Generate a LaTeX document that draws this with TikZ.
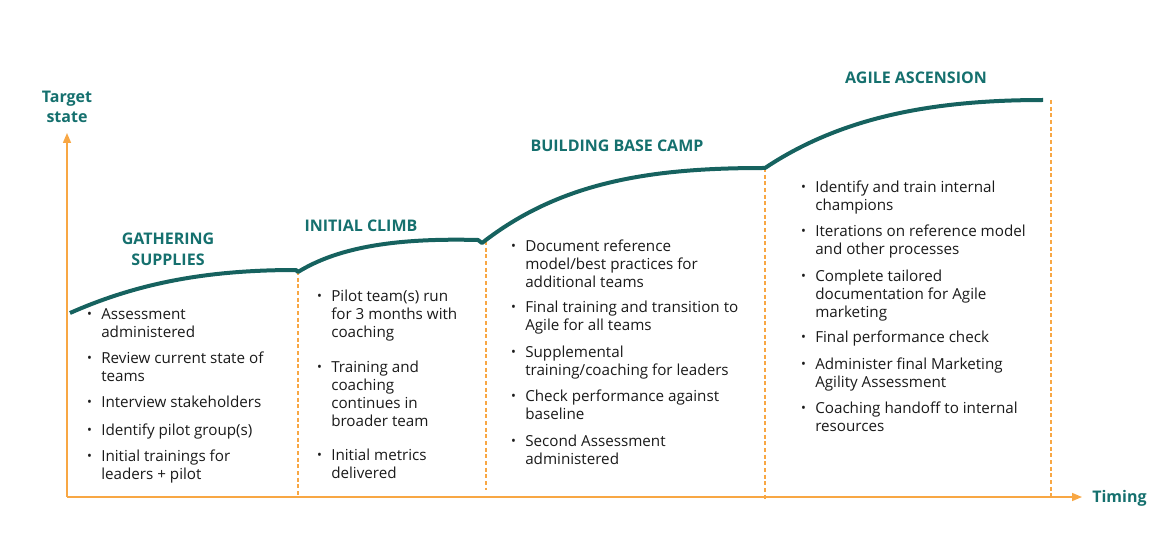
\documentclass[tikz,border=0pt]{standalone}
\usepackage{fontspec}
\setmainfont{Open Sans}
\usetikzlibrary{arrows.meta}
\definecolor{teal1}{HTML}{15706E}
\definecolor{curvec}{HTML}{16625F}
\definecolor{axisc}{HTML}{F8A744}
\definecolor{txt}{HTML}{1A1A1A}
\tikzset{
  itemnode/.style={anchor=north west,inner sep=0pt,align=left,text=txt,font=\fontsize{11.4}{13.5}\selectfont},
  title/.style={inner sep=0pt,align=center,text=teal1,font=\fontsize{12}{15.75}\selectfont\bfseries},
  axislabel/.style={inner sep=0pt,align=center,text=teal1,font=\fontsize{12}{15}\selectfont\bfseries},
  axisline/.style={draw=axisc,line width=1.1pt,-{Triangle[length=7.5pt,width=6pt]}},
  guide/.style={draw=axisc,line width=1pt,dash pattern=on 3pt off 2pt},
  climb/.style={draw=curvec,line width=3pt},
}
\newcommand{\bul}{\strut\llap{\raisebox{0.5pt}{\scalebox{0.85}{•}}\hspace{7pt}}}
\begin{document}
\begin{tikzpicture}[x=0.75pt,y=-0.75pt]
\useasboundingbox (0,0) rectangle (1173,545);
% axes
\coordinate (origin) at (67,497);
\coordinate (ytop) at (67,133);
\coordinate (xend) at (1082,497);
\draw[axisline] (origin) -- (ytop);
\draw[axisline] (origin) -- (xend);
\node[axislabel] (target) at (67,107) {Target\\state};
\node[axislabel,anchor=west] (timing) at (1092,498) {Timing};
% guides
\coordinate (g1t) at (298,271); \coordinate (g1b) at (298,497);
\coordinate (g2t) at (486,241); \coordinate (g2b) at (486,490);
\coordinate (g3t) at (765,168); \coordinate (g3b) at (765,501);
\coordinate (g4t) at (1051,100); \coordinate (g4b) at (1051,497);
\draw[guide] (g1t) -- (g1b);
\draw[guide] (g2t) -- (g2b);
\draw[guide] (g3t) -- (g3b);
\draw[guide] (g4t) -- (g4b);
% curve
\coordinate (c0) at (70,313);
\coordinate (c1) at (296,270);
\coordinate (c2) at (298,272);
\coordinate (c3) at (478,240);
\coordinate (c4) at (482,243);
\coordinate (c5) at (763,168);
\coordinate (c6) at (765,168);
\coordinate (c7) at (1043,100);
\draw[climb,line join=round] (c0) .. controls (140,282) and (210,270) .. (c1) -- (c2)
  .. controls (340,246) and (400,238) .. (c3) -- (c4)
  .. controls (560,182) and (650,168) .. (c5) -- (c6)
  .. controls (840,118) and (930,100) .. (c7);
% titles
\node[title] (t1) at (168,249) {GATHERING\\SUPPLIES};
\node[title] (t2) at (361,226) {INITIAL CLIMB};
\node[title] (t3) at (617,146) {BUILDING BASE CAMP};
\node[title] (t4) at (916,78) {AGILE ASCENSION};
% column 1
\node[itemnode] (a1) at (101,306.4) {\bul Assessment\\administered};
\node[itemnode] (a2) at (101,350.4) {\bul Review current state of\\teams};
\node[itemnode] (a3) at (101,394.4) {\bul Interview stakeholders};
\node[itemnode] (a4) at (101,422.4) {\bul Identify pilot group(s)};
\node[itemnode] (a5) at (101,448.4) {\bul Initial trainings for\\leaders + pilot};
% column 2
\node[itemnode] (b1) at (331,288.4) {\bul Pilot team(s) run\\for 3 months with\\coaching};
\node[itemnode] (b2) at (331,359.4) {\bul Training and\\coaching\\continues in\\broader team};
\node[itemnode] (b3) at (331,447.4) {\bul Initial metrics\\delivered};
% column 3
\node[itemnode] (d1) at (525,238.4) {\bul Document reference\\model/best practices for\\additional teams};
\node[itemnode] (d2) at (525,299.4) {\bul Final training and transition to\\Agile for all teams};
\node[itemnode] (d3) at (525,344.4) {\bul Supplemental\\training/coaching for leaders};
\node[itemnode] (d4) at (525,388.4) {\bul Check performance against\\baseline};
\node[itemnode] (d5) at (525,433.4) {\bul Second Assessment\\administered};
% column 4
\node[itemnode] (e1) at (815,179.4) {\bul Identify and train internal\\champions};
\node[itemnode] (e2) at (815,223.4) {\bul Iterations on reference model\\and other processes};
\node[itemnode] (e3) at (815,268.4) {\bul Complete tailored\\documentation for Agile\\marketing};
\node[itemnode] (e4) at (815,329.4) {\bul Final performance check};
\node[itemnode] (e5) at (815,356.4) {\bul Administer final Marketing\\Agility Assessment};
\node[itemnode] (e6) at (815,400.4) {\bul Coaching handoff to internal\\resources};
\end{tikzpicture}
\end{document}
